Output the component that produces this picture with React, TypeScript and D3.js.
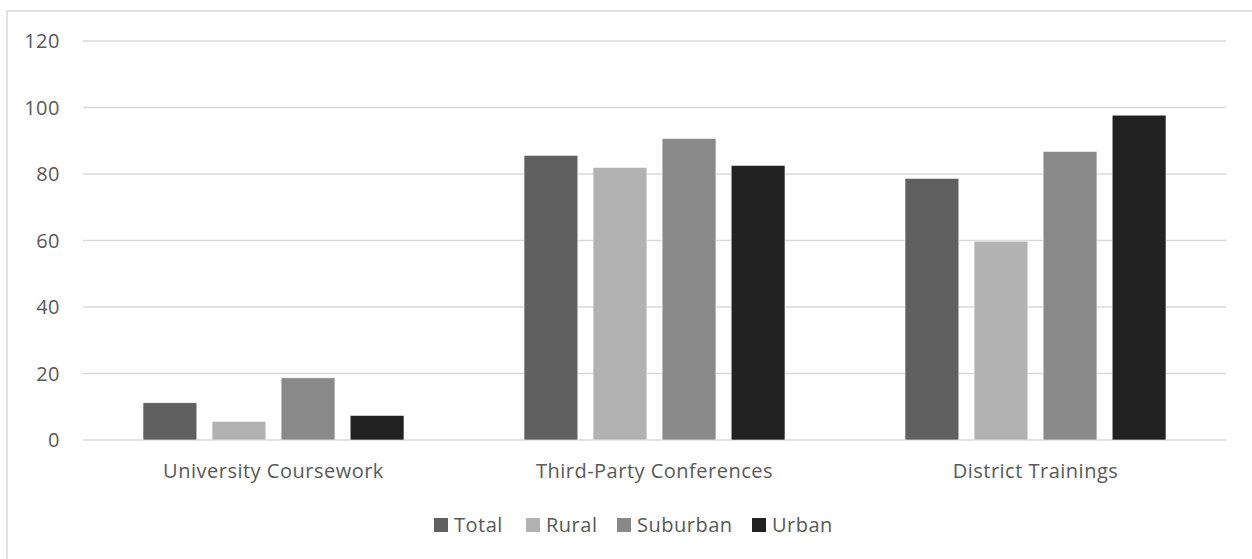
import React from "react";
import * as d3 from "d3";

const categories = ["University Coursework", "Third-Party Conferences", "District Trainings"];
const seriesNames = ["Total", "Rural", "Suburban", "Urban"];
const total = [11.2, 85.6, 78.7];
const rural = [5.6, 82.0, 59.8];
const suburban = [18.7, 90.7, 86.8];
const urban = [7.4, 82.6, 97.7];
const yTicks = [0, 20, 40, 60, 80, 100, 120];
const colors = ["#606060", "#b2b2b2", "#898989", "#222222"];

const seriesValues = [total, rural, suburban, urban];

export default function App() {
  const W = 1252, H = 559;
  const left = 83, right = 1226, top = 41, bottom = 440;
  const font = "'Open Sans', sans-serif";
  const textColor = "#595959";
  const fs = 20;
  const ls = 0.5;

  const y = d3.scaleLinear().domain([0, 120]).range([bottom, top]);
  const x0 = d3.scaleBand().domain(categories).range([left, right]).paddingInner(0).paddingOuter(0);
  const bw = x0.bandwidth();
  const groupPad = 60;
  const x1 = d3.scaleBand().domain(seriesNames).range([groupPad, bw - groupPad]).paddingInner(0.22).paddingOuter(0);

  const legendItems = [
    { name: "Total", x: 434 },
    { name: "Rural", x: 526 },
    { name: "Suburban", x: 617 },
    { name: "Urban", x: 752 },
  ];

  return (
    <svg width={W} height={H} style={{ position: "absolute", left: 0, top: 0, background: "#fff" }}>
      <rect x={7} y={11} width={W + 10} height={H + 10} fill="#fff" stroke="#d9d9d9" strokeWidth={1.5} />
      {yTicks.map((t) => (
        <g key={t}>
          <line x1={left} x2={right} y1={y(t)} y2={y(t)} stroke="#d9d9d9" strokeWidth={1.3} />
          <text x={60} y={y(t)} dy="0.35em" textAnchor="end" fontFamily={font} fontSize={fs} letterSpacing={ls} fill={textColor}>
            {t}
          </text>
        </g>
      ))}
      {categories.map((c, ci) => (
        <g key={c} transform={`translate(${x0(c)},0)`}>
          {seriesNames.map((s, si) => (
            <rect
              key={s}
              x={x1(s)}
              y={y(seriesValues[si][ci])}
              width={x1.bandwidth()}
              height={y(0) - y(seriesValues[si][ci])}
              fill={colors[si]}
              stroke="#ffffff"
              strokeWidth={0.6}
            />
          ))}
          <text x={bw / 2} y={471} dy="0.35em" textAnchor="middle" fontFamily={font} fontSize={fs} letterSpacing={ls} fill={textColor}>
            {c}
          </text>
        </g>
      ))}
      {legendItems.map((l, i) => (
        <g key={l.name}>
          <rect x={l.x} y={518} width={14} height={14} fill={colors[i]} />
          <text x={l.x + 20} y={525} dy="0.35em" fontFamily={font} fontSize={fs} letterSpacing={ls} fill={textColor}>
            {l.name}
          </text>
        </g>
      ))}
    </svg>
  );
}
